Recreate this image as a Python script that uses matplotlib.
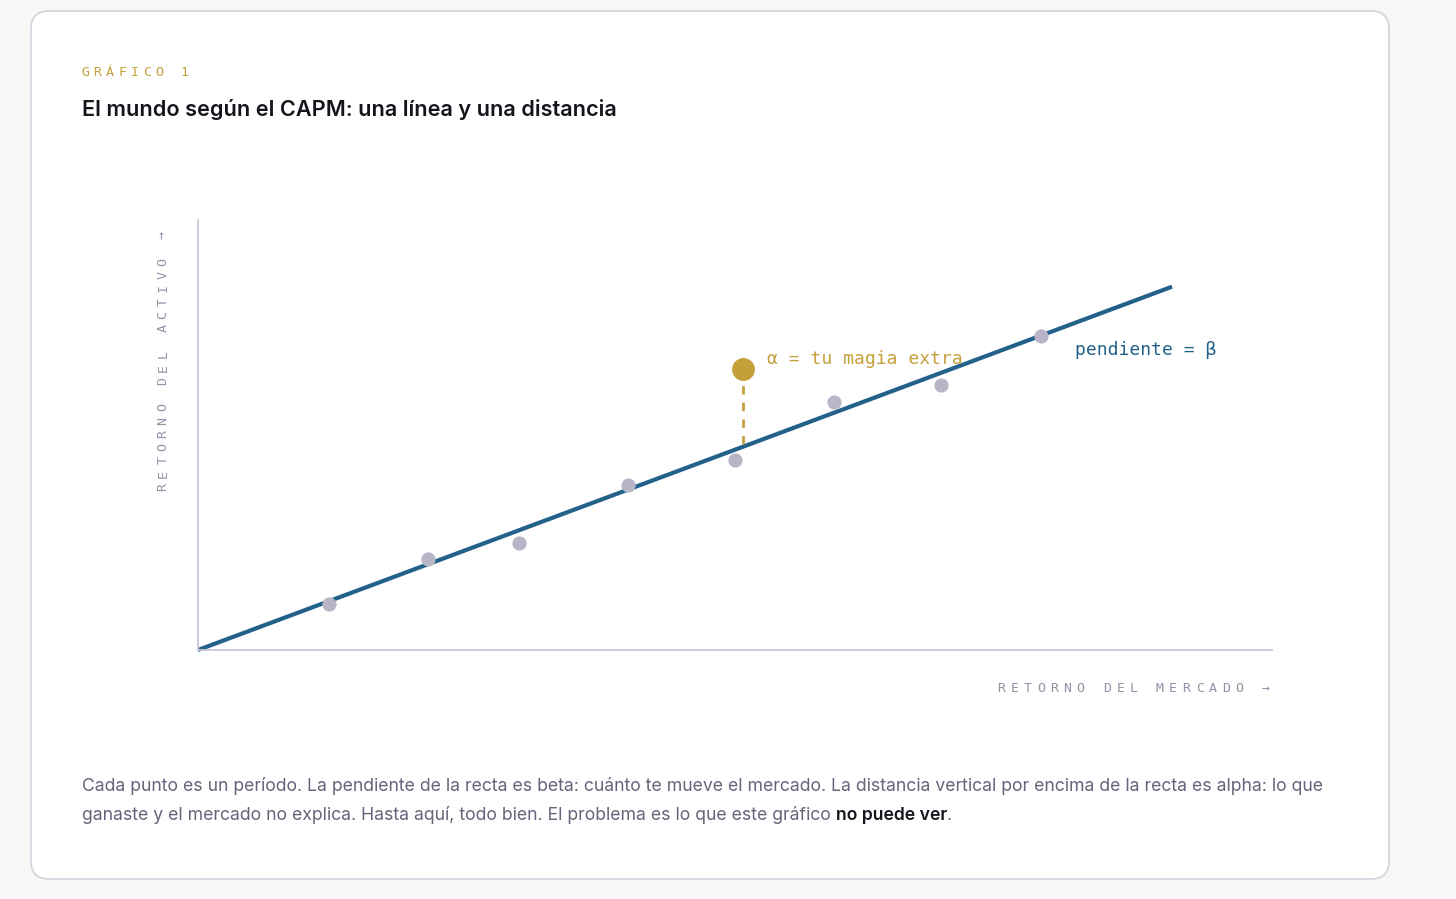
import numpy as np
import matplotlib
matplotlib.use("Agg")
import matplotlib.pyplot as plt
from matplotlib.patches import FancyBboxPatch

W, H, DPI = 1456, 899, 100

# ----- data (market return vs asset return, arbitrary units) -----
MERCADO = [1.35, 2.36, 3.30, 4.41, 5.51, 6.53, 7.63, 8.66]
ACTIVO  = [0.47, 0.93, 1.10, 1.69, 1.95, 2.55, 2.72, 3.22]
BETA = 0.373
LINE_X = [0.0, 10.0]
ALPHA_X, ALPHA_Y = 5.60, 2.89

KICKER = "GRÁFICO 1"
TITLE = "El mundo según el CAPM: una línea y una distancia"
XLABEL = "RETORNO DEL MERCADO →"
YLABEL = "RETORNO DEL ACTIVO →"
CAPTION_1 = ("Cada punto es un período. La pendiente de la recta es beta: cuánto te mueve el "
             "mercado. La distancia vertical por encima de la recta es alpha: lo que")
CAPTION_2 = "ganaste y el mercado no explica. Hasta aquí, todo bien. El problema es lo que este gráfico "
CAPTION_BOLD = "no puede ver"

# ----- colours -----
BG = "#f8f7f5"
CARD_EDGE = "#d3d1de"
BLUE = "#21618a"
GOLD = "#c4a03a"
DOT = "#b8b5c6"
AXIS = "#c9c7d5"
MUTED = "#9491a8"
TEXT = "#66637a"
DARK = "#15141c"

MONO = "DejaVu Sans Mono"
SANS = ["Inter", "DejaVu Sans"]


def px(x, y):
    """pixel (from top-left) -> figure fraction"""
    return x / W, 1 - y / H


def spaced(fig, x, y, s, pitch, rot=False, **kw):
    # monospace text with letter spacing, one glyph at a time
    for i, ch in enumerate(s):
        if rot:
            fx, fy = px(x, y - i * pitch)
            fig.text(fx, fy, ch, rotation=90, rotation_mode="anchor",
                     ha="left", va="center", family=MONO, **kw)
        else:
            fx, fy = px(x + i * pitch, y)
            fig.text(fx, fy, ch, ha="left", va="center", family=MONO, **kw)


fig = plt.figure(figsize=(W / DPI, H / DPI), dpi=DPI, facecolor=BG)

# card
bg_ax = fig.add_axes([0, 0, 1, 1])
bg_ax.set_xlim(0, W); bg_ax.set_ylim(H, 0); bg_ax.axis("off")
bg_ax.add_patch(FancyBboxPatch((31, 11), 1358, 868,
                               boxstyle="round,pad=0,rounding_size=18",
                               fc="white", ec=CARD_EDGE, lw=1.2))

# header
spaced(fig, 81, 72, KICKER, 12.4, fontsize=9.5, fontweight="medium", color=GOLD)
fig.text(*px(82, 109), TITLE, ha="left", va="center", family=SANS,
         fontsize=15.6, fontweight="semibold", color=DARK)

# plot area
L, R, T, B = 198, 1272, 220, 650
ax = fig.add_axes([L / W, 1 - B / H, (R - L) / W, (B - T) / H])
ax.set_facecolor("none")
ax.set_xlim(0, (R - L) / 97.4)
ax.set_ylim(0, (B - T) / 97.4)
for side in ("top", "right"):
    ax.spines[side].set_visible(False)
for side in ("left", "bottom"):
    ax.spines[side].set_color(AXIS)
    ax.spines[side].set_linewidth(1.3)
ax.set_xticks([]); ax.set_yticks([])

lx = np.array(LINE_X)
ax.plot(lx, BETA * lx, color=BLUE, lw=3, solid_capstyle="butt", zorder=2, clip_on=False)
ax.scatter(MERCADO, ACTIVO, s=105, color=DOT, zorder=3, linewidths=0)

# alpha: vertical distance above the line
ax.plot([ALPHA_X, ALPHA_X], [BETA * ALPHA_X + 0.03, ALPHA_Y - 0.14], color=GOLD,
        lw=2, dashes=(3, 3), zorder=2)
ax.scatter([ALPHA_X], [ALPHA_Y], s=270, color=GOLD, zorder=4, linewidths=0)
ax.annotate("α = tu magia extra", xy=(ALPHA_X, ALPHA_Y), xytext=(17, 6.5),
            textcoords="offset points", ha="left", va="center",
            family=MONO, fontsize=13, color=GOLD)
ax.text(9.0, 3.08, "pendiente = β", ha="left", va="center",
        family=MONO, fontsize=13, color=BLUE)

# axis labels
spaced(fig, 997, 689, XLABEL, 13.25, fontsize=9.5, color=MUTED)
spaced(fig, 163, 491, YLABEL, 13.25, rot=True, fontsize=9.5, color=MUTED)

# caption
FS = 12.7
fig.text(*px(82, 786), CAPTION_1, ha="left", va="center", family=SANS,
         fontsize=FS, color=TEXT)
t2 = fig.text(*px(82, 815), CAPTION_2, ha="left", va="center", family=SANS,
              fontsize=FS, color=TEXT)
r = fig.canvas.get_renderer()
x_end = t2.get_window_extent(r).x1
tb = fig.text(x_end / W, 1 - 815 / H, CAPTION_BOLD, ha="left", va="center",
              family=SANS, fontsize=FS, fontweight="semibold", color=DARK)
x_end = tb.get_window_extent(r).x1
fig.text(x_end / W, 1 - 815 / H, ".", ha="left", va="center", family=SANS,
         fontsize=FS, color=TEXT)

fig.savefig("out.png", dpi=DPI, facecolor=BG)
